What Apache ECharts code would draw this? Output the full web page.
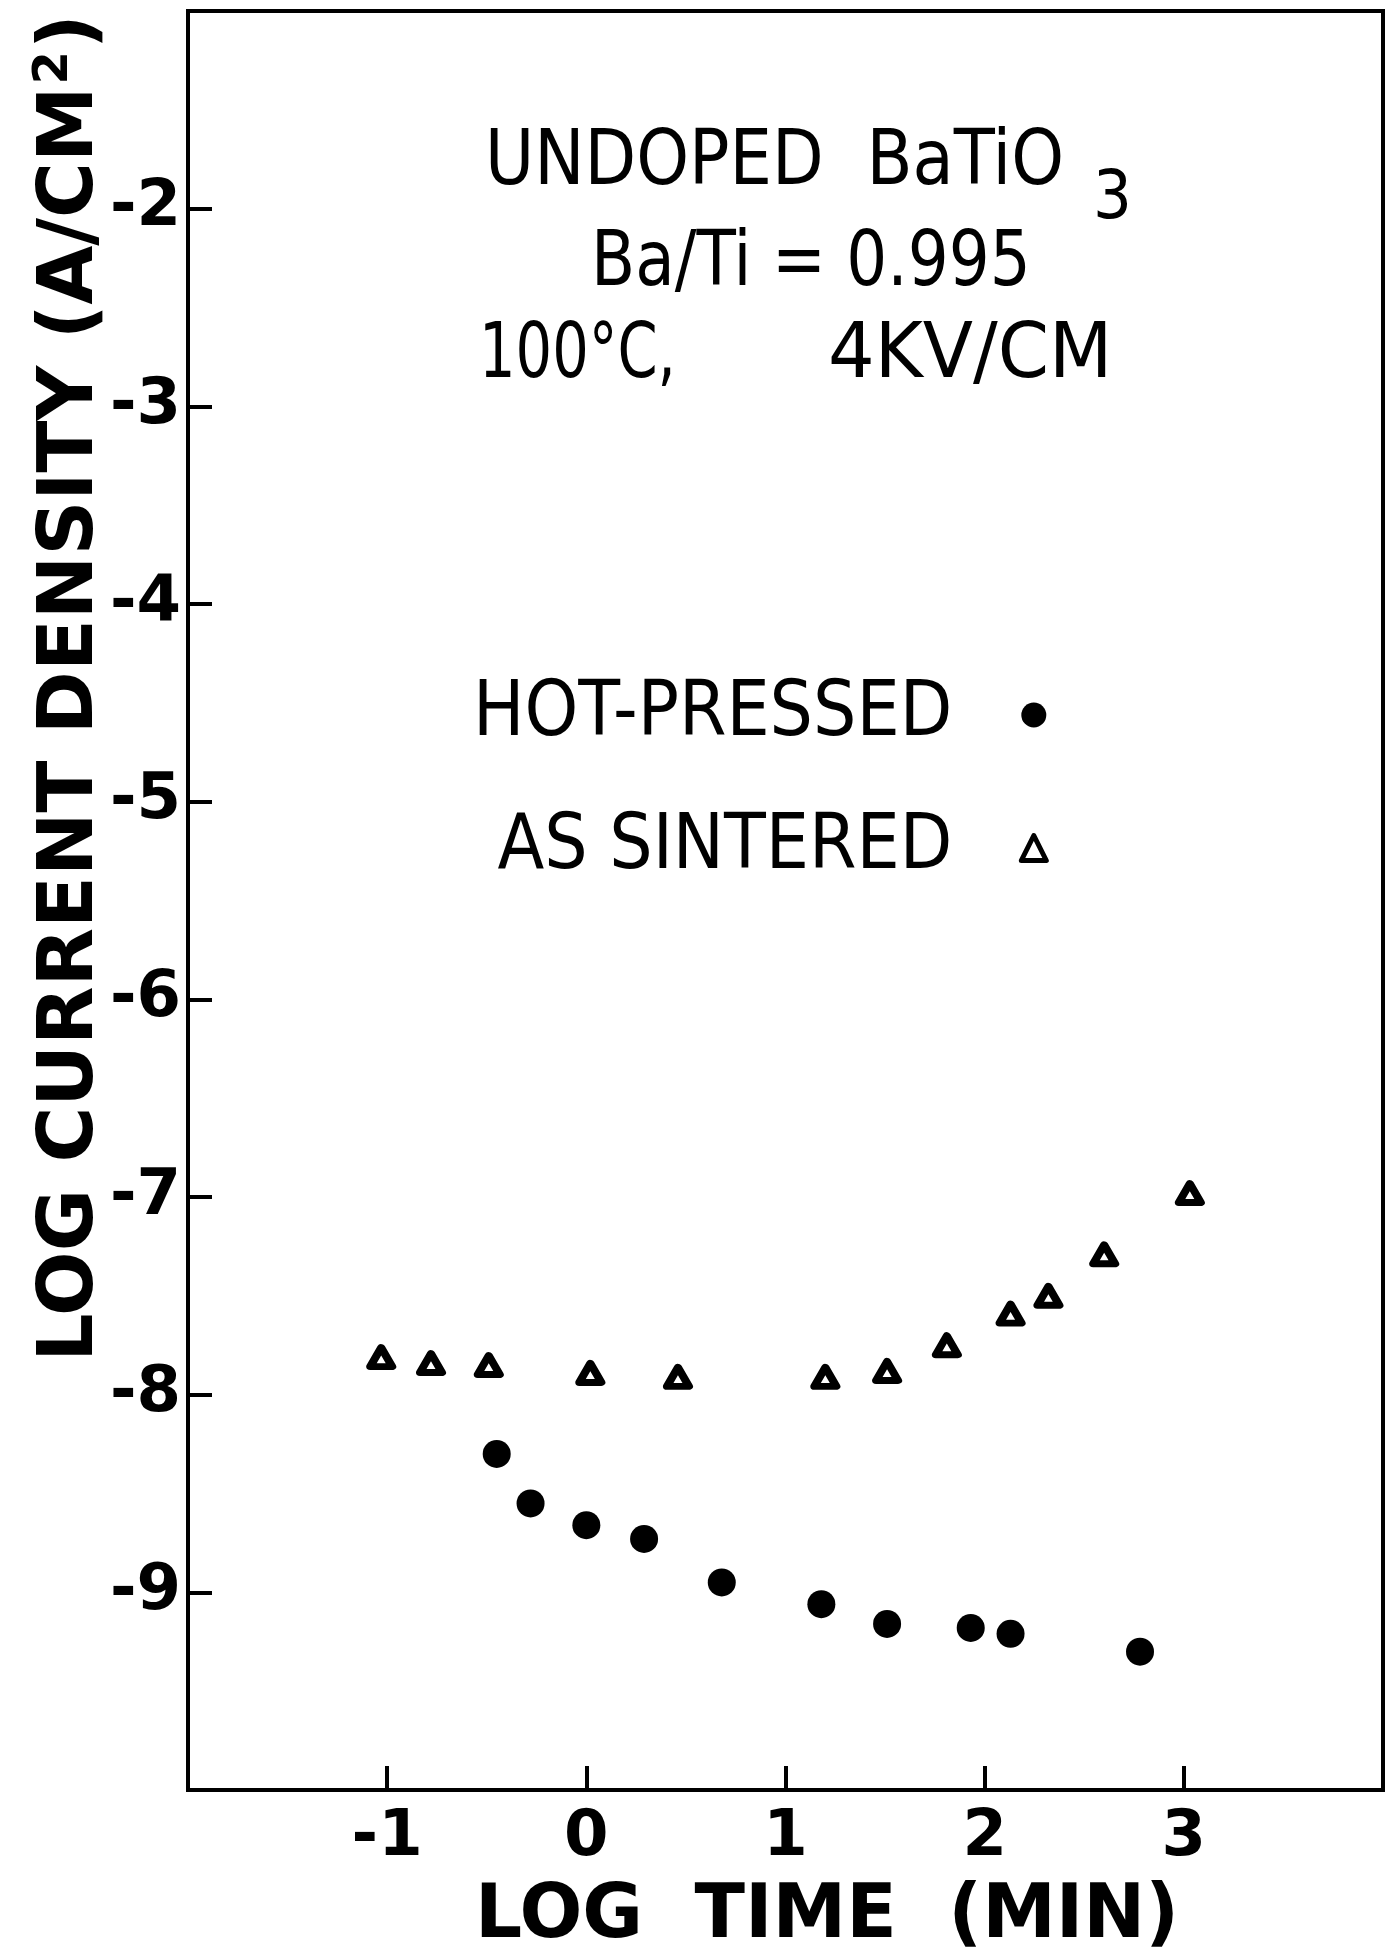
<!DOCTYPE html>
<html>
<head>
<meta charset="utf-8">
<script src="https://cdn.jsdelivr.net/npm/echarts@6.0.0/dist/echarts.min.js"></script>
<style>
  html, body { margin: 0; padding: 0; background: #fff; }
  #chart { width: 1393px; height: 1950px; }
</style>
</head>
<body>
<div id="chart"></div>
<script>
// Leakage current vs. time, undoped BaTiO3 (log-log)
const hotPressedLogTime = [-0.45, -0.28, 0.00, 0.29, 0.68, 1.18, 1.51, 1.93, 2.13, 2.78];
const hotPressedLogJ    = [-8.30, -8.55, -8.66, -8.73, -8.95, -9.06, -9.16, -9.18, -9.21, -9.30];

const sinteredLogTime = [-1.03, -0.78, -0.49, 0.02, 0.46, 1.20, 1.51, 1.81, 2.13, 2.32, 2.60, 3.03];
const sinteredLogJ    = [-7.81, -7.84, -7.85, -7.89, -7.91, -7.91, -7.88, -7.75, -7.59, -7.50, -7.29, -6.98];

const xTickLabels = [-1, 0, 1, 2, 3];
const yTickLabels = [-2, -3, -4, -5, -6, -7, -8, -9];

const seriesNames = ['HOT-PRESSED', 'AS SINTERED'];

const BOLD = "'DejaVu Sans', 'Liberation Sans', sans-serif";
const COND = "'DejaVu Sans Condensed', 'DejaVu Sans', sans-serif";

const zip = (xs, ys) => xs.map((x, i) => [x, ys[i]]);

const chart = echarts.init(document.getElementById('chart'), null, { renderer: 'canvas' });

// left-aligned lettering inside the plot; sx squeezes it horizontally
const note = (text, x, y, size, sx) => ({
  type: 'text',
  x: x, y: y,
  scaleX: sx || 1,
  silent: true,
  style: {
    text: text,
    fontFamily: COND,
    fontSize: size,
    fill: '#000',
    textAlign: 'left', align: 'left',
    textVerticalAlign: 'middle', verticalAlign: 'middle'
  }
});

chart.setOption({
  backgroundColor: '#fff',
  animation: false,
  grid: {
    left: 188, right: 10, top: 11, bottom: 160,
    show: true, borderColor: '#000', borderWidth: 4, backgroundColor: 'transparent'
  },
  xAxis: {
    type: 'value', min: -2, max: 4, interval: 1,
    axisLine: { show: true, onZero: false, lineStyle: { color: '#000', width: 4 } },
    axisTick: { show: true, inside: true, length: 24, lineStyle: { color: '#000', width: 4 } },
    splitLine: { show: false },
    axisLabel: {
      margin: 16, color: '#000', fontFamily: BOLD, fontWeight: 'bold', fontSize: 64,
      formatter: v => xTickLabels.includes(v) ? String(v) : ''
    }
  },
  yAxis: {
    type: 'value', min: -10, max: -1, interval: 1,
    axisLine: { show: true, onZero: false, lineStyle: { color: '#000', width: 4 } },
    axisTick: { show: true, inside: true, length: 24, lineStyle: { color: '#000', width: 4 } },
    splitLine: { show: false },
    axisLabel: {
      margin: 7, color: '#000', fontFamily: BOLD, fontWeight: 'bold', fontSize: 64,
      formatter: v => yTickLabels.includes(v) ? String(v) : ''
    }
  },
  legend: {
    orient: 'vertical', align: 'right',
    left: 473, top: 663, padding: 0, itemGap: 29,
    itemWidth: 25, itemHeight: 25,
    selectedMode: false,
    data: [
      { name: seriesNames[0] },
      { name: seriesNames[1], itemStyle: { color: '#fff', borderColor: '#000', borderWidth: 5 } }
    ],
    textStyle: {
      fontFamily: COND, fontSize: 76, lineHeight: 80, color: '#000',
      padding: [0, 64, 24, 0]
    }
  },
  series: [
    {
      name: seriesNames[0], type: 'scatter',
      symbol: 'circle', symbolSize: 28,
      itemStyle: { color: '#000', opacity: 1 },
      data: zip(hotPressedLogTime, hotPressedLogJ)
    },
    {
      name: seriesNames[1], type: 'scatter',
      symbol: 'triangle', symbolSize: [22, 19],
      itemStyle: { color: '#fff', borderColor: '#000', borderWidth: 7.5, borderJoin: 'round', opacity: 1 },
      data: zip(sinteredLogTime, sinteredLogJ)
    }
  ],
  graphic: [
    note('UNDOPED  BaTiO', 485, 164, 77, 0.97),
    note('3', 1093, 200, 68),
    note('Ba/Ti = 0.995', 591, 265, 77, 0.93),
    note('100°C,', 479, 357, 77, 0.83),
    note('4KV/CM', 828, 357, 77, 1.06),
    {
      type: 'text',
      x: 827, y: 1918,
      silent: true,
      style: {
        text: 'LOG  TIME  (MIN)',
        fontFamily: BOLD, fontWeight: 'bold', fontSize: 74, fill: '#000',
        textAlign: 'center', align: 'center',
        textVerticalAlign: 'middle', verticalAlign: 'middle'
      }
    },
    {
      type: 'text',
      x: 72, y: 688,
      rotation: Math.PI / 2,
      silent: true,
      style: {
        text: '{m|LOG CURRENT DENSITY (A/CM}{s|2}{m|)}',
        fill: '#000',
        textAlign: 'center', align: 'center',
        textVerticalAlign: 'middle', verticalAlign: 'middle',
        rich: {
          m: { fontFamily: BOLD, fontWeight: 'bold', fontSize: 76, lineHeight: 82, color: '#000' },
          s: { fontFamily: BOLD, fontWeight: 'bold', fontSize: 48, lineHeight: 82, color: '#000', verticalAlign: 'top', padding: [0, 2, 30, 2] }
        }
      }
    }
  ]
});
</script>
</body>
</html>
